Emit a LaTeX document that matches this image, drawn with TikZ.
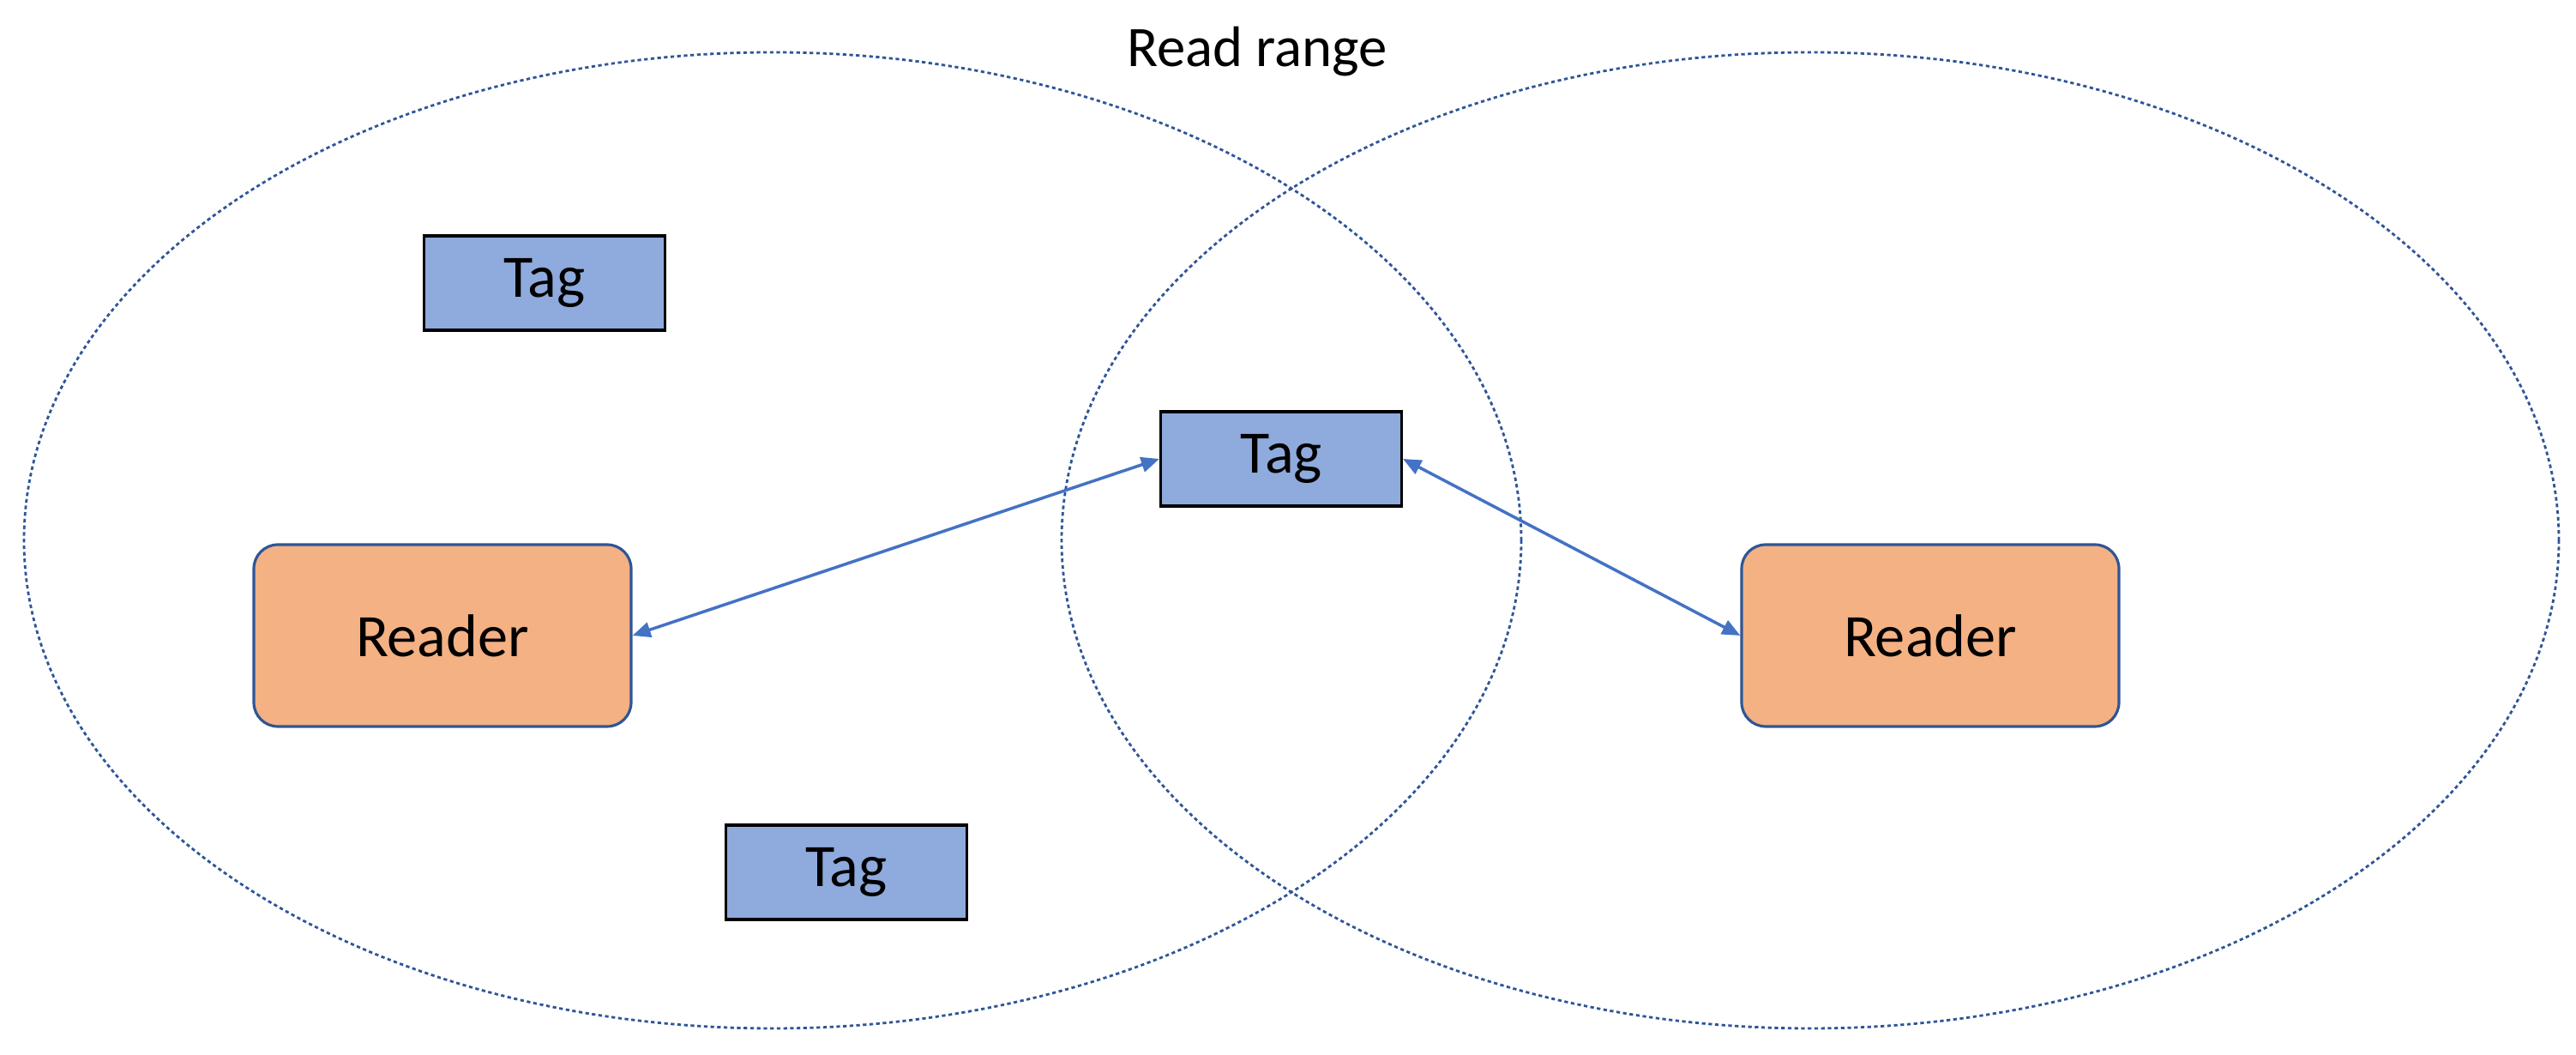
\documentclass[tikz,border=0pt]{standalone}
\usepackage{fontspec}
\setmainfont{Carlito}
\usetikzlibrary{arrows.meta}

\definecolor{tagblue}{HTML}{8FAADC}
\definecolor{readerorange}{HTML}{F4B183}
\definecolor{rangeblue}{HTML}{2F5597}
\definecolor{linkblue}{HTML}{4472C4}

\tikzset{
  tagbox/.style={draw=black, line width=0.9pt, fill=tagblue,
    minimum width=2.81cm, minimum height=1.10cm, inner sep=0pt},
  readerbox/.style={draw=rangeblue, line width=0.9pt, fill=readerorange,
    rounded corners=0.28cm, minimum width=4.40cm, minimum height=2.12cm, inner sep=0pt},
  rangeline/.style={draw=rangeblue, line width=0.8pt, dash pattern=on 1.2pt off 1pt},
  link/.style={draw=linkblue, line width=1pt,
    {Triangle[length=6pt,width=5pt]}-{Triangle[length=6pt,width=5pt]}}
}

\begin{document}
\begin{tikzpicture}[font=\fontsize{20}{24}\selectfont]
\useasboundingbox (0,0) rectangle (30.04,12.30);

  % read ranges
  \draw[rangeline] (9.01,6.00) ellipse [x radius=8.73, y radius=5.69];
  \draw[rangeline] (21.11,6.00) ellipse [x radius=8.73, y radius=5.69];
  \node[anchor=base, font=\fontsize{19}{23}\selectfont] (rangelabel) at (14.66,11.52) {Read range};

  \node[tagbox] (tagA) at (6.35,9.00) {Tag};
  \node[tagbox] (tagM) at (14.94,6.95) {Tag};
  \node[tagbox] (tagB) at (9.87,2.13) {Tag};

  \node[readerbox] (readerL) at (5.16,4.89) {Reader};
  \node[readerbox] (readerR) at (22.51,4.89) {Reader};

  \draw[link] (readerL.east) -- (tagM.west);
  \draw[link] (tagM.east) -- (readerR.west);

\end{tikzpicture}
\end{document}
